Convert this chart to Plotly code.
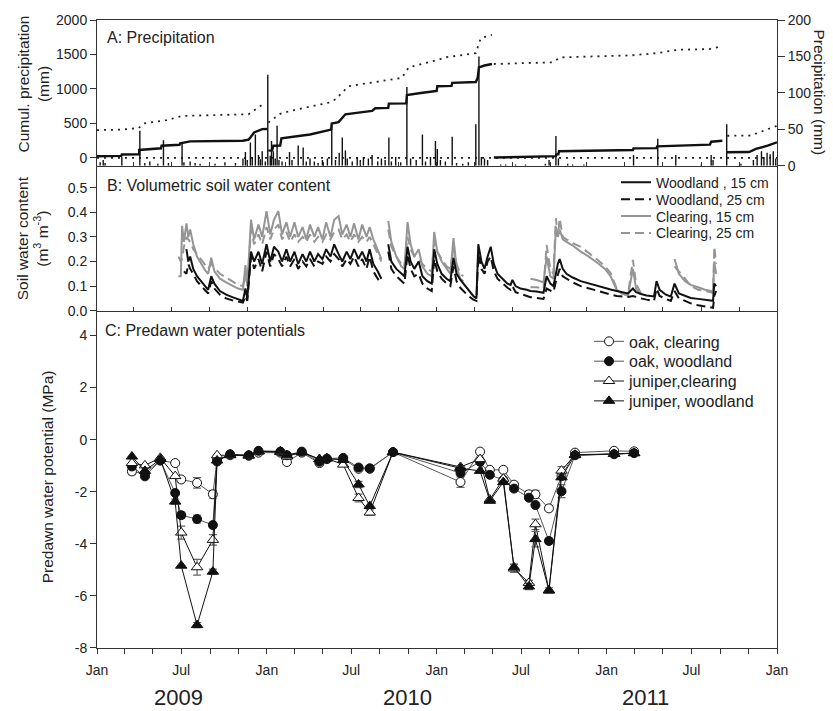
import plotly.graph_objects as go
from datetime import date, timedelta

BASE = date(2009, 1, 1)

# ---------------- Panel A: precipitation (days since 1 Jan 2009) ----------------
rain_day = [5, 10, 13, 40, 69, 77, 85, 98, 107, 115,
            137, 140, 150, 158, 166, 190, 206, 223, 235, 239,
            242, 247, 250, 255, 260, 263, 266, 271, 275, 279,
            281, 284, 287, 290, 293, 298, 310, 314, 324, 332,
            337, 343, 350, 356, 363, 371, 378, 384, 390, 395,
            400, 403, 411, 419, 424, 429, 437, 443, 452, 458,
            464, 470, 474, 481, 489, 499, 505, 514, 524, 529,
            537, 545, 548, 553, 561, 572, 579, 589, 598, 610,
            615, 619, 624, 629, 650, 658, 674, 690, 722, 728,
            739, 743, 758, 766, 784, 864, 903, 932, 973, 989,
            992, 1014, 1037, 1057, 1063, 1070, 1074, 1079, 1084, 1089,
            1093]
rain_mm = [5, 8, 4, 12, 48, 4, 6, 3, 35, 4,
           30, 5, 6, 4, 3, 3, 5, 4, 10, 19,
           8, 32, 12, 43, 15, 9, 20, 6, 125, 14,
           34, 20, 10, 55, 8, 6, 19, 8, 28, 25,
           6, 10, 6, 4, 8, 10, 57, 8, 18, 39,
           21, 10, 6, 12, 8, 12, 10, 15, 6, 10,
           8, 39, 6, 12, 5, 108, 10, 8, 43, 6,
           12, 34, 23, 8, 6, 40, 4, 3, 5, 57,
           150, 12, 10, 8, 2, 2, 2, 2, 3, 8,
           41, 10, 3, 2, 2, 15, 37, 15, 2, 15,
           8, 57, 3, 8, 15, 20, 12, 18, 16, 20,
           10]

cum_solid_day = [0, 39, 40, 68, 68, 103, 104, 133, 134, 150, 235, 244, 247, 253, 266, 274, None,
                 276, 282, 284, 295, 297, 311, 343, 377, 378, 389, 400, 424, 443, 448, 469, 470,
                 498, 499, 513, 524, 537, 547, 548, 571, 572, 610, 613, 615, 624, 636, None,
                 639, 727, 739, 740, 743, 744, 863, 864, 901, 902, 987, 989, 1007, None,
                 1013, 1050, 1061, 1080, 1095]
cum_solid_mm = [25, 30, 50, 52, 115, 140, 177, 190, 211, 240, 249, 265, 297, 369, 417, 420, None,
                105, 110, 177, 180, 283, 300, 340, 410, 499, 520, 633, 660, 681, 720, 725, 787,
                790, 911, 925, 945, 960, 970, 1040, 1045, 1089, 1100, 1161, 1314, 1340, 1362, None,
                5, 19, 25, 50, 55, 96, 115, 139, 142, 168, 192, 235, 249, None,
                82, 85, 130, 177, 226]

cum_dot_day = [0, 37, 67, 75, 112, 137, 244, 255, 271, None,
               276, 295, 311, 373, 384, 405, 491, 502, 550, 561, 610, 614, 618, 636, None,
               639, 733, 747, 860, 902, 935, 986, 1005, None,
               1015, 1053, 1080, 1095]
cum_dot_mm = [403, 410, 432, 499, 547, 609, 633, 705, 801, None,
              513, 640, 681, 801, 850, 1040, 1161, 1314, 1424, 1458, 1520, 1640, 1736, 1784, None,
              1362, 1386, 1458, 1487, 1520, 1568, 1578, 1616, None,
              321, 325, 417, 465]

ref_day = [0, 1095]
ref_mm = [0, 0]

# ---------------- Panel B: volumetric soil water content ----------------
N = None
soil_day = [131, 135, 137, 140, 144, 147, 150, 155, 161, 168,
            174, 179, 184, 189, 198, 208, 218, 227, 235, 239,
            242, 248, 253, 260, 266, 273, 279, 285, 292, 298,
            305, 311, 318, 324, 331, 337, 343, 350, 356, 363,
            369, 376, 382, 389, 395, 402, 408, 414, 421, 427,
            434, 439, 445, 452, 458, 463, 469, 474, 482, 490,
            495, 500, 505, 511, 518, 524, 532, 539, 543, 548,
            555, 563, 569, 574, 579, 585, 590, 598, 606, 611,
            614, 619, 624, 629, 634, 639, 645, 653, 661, 666,
            669, 674, 682, 692, 698, 708, 719, 724, 730, 735,
            739, 742, 745, 750, 756, 766, 779, 792, 806, 818,
            827, 837, 845, 855, 863, 868, 876, 885, 897, 901,
            906, 916, 924, 930, 937, 947, 956, 968, 979, 989,
            992, 994, 997]
wood15 = [N, N, N, N, 0.25, 0.20, 0.22, 0.17, 0.14, 0.12,
          0.10, 0.085, 0.14, 0.11, 0.08, 0.065, 0.055, 0.048, 0.04, 0.09,
          0.05, 0.24, 0.20, 0.24, 0.19, 0.27, 0.20, 0.26, 0.24, 0.20,
          0.25, 0.20, 0.24, 0.19, 0.23, 0.20, 0.24, 0.20, 0.23, 0.21,
          0.25, 0.22, 0.27, 0.23, 0.20, 0.24, 0.21, 0.25, 0.21, 0.24,
          0.20, 0.25, 0.19, 0.16, 0.13, N, 0.27, 0.20, 0.17, 0.15,
          0.14, 0.26, 0.20, 0.17, 0.20, 0.14, 0.12, 0.11, 0.25, 0.19,
          0.15, 0.13, 0.12, 0.215, 0.15, 0.126, 0.11, 0.085, 0.06, 0.05,
          0.27, 0.20, 0.17, 0.22, 0.26, 0.19, 0.15, 0.13, 0.11, 0.105,
          0.125, 0.10, 0.09, 0.085, 0.08, 0.078, 0.073, 0.14, 0.11, 0.10,
          0.16, 0.19, 0.21, 0.17, 0.15, 0.135, 0.12, 0.11, 0.10, 0.093,
          0.086, 0.08, 0.075, 0.07, 0.09, 0.075, 0.068, 0.062, 0.058, 0.12,
          0.085, 0.065, 0.058, 0.11, 0.07, 0.06, 0.052, 0.048, 0.045, 0.04,
          0.04, 0.11, 0.10]
wood25 = [N, N, N, 0.16, 0.15, 0.19, 0.17, 0.15, 0.12, 0.10,
          0.085, 0.07, 0.12, 0.09, 0.065, 0.05, 0.042, 0.036, 0.033, 0.06,
          0.04, 0.22, 0.17, 0.21, 0.16, 0.24, 0.18, 0.23, 0.21, 0.18,
          0.22, 0.18, 0.21, 0.17, 0.20, 0.18, 0.21, 0.18, 0.20, 0.19,
          0.22, 0.20, 0.23, 0.21, 0.18, 0.21, 0.19, 0.22, 0.18, 0.21,
          0.17, 0.22, 0.16, 0.13, 0.11, N, 0.24, 0.17, 0.14, 0.12,
          0.11, 0.23, 0.17, 0.14, 0.15, 0.11, 0.09, 0.08, 0.21, 0.16,
          0.13, 0.11, 0.10, 0.18, 0.12, 0.093, 0.08, 0.06, 0.045, 0.04,
          0.23, 0.17, 0.15, 0.20, 0.22, 0.16, 0.13, 0.11, 0.093, 0.085,
          0.10, 0.075, 0.068, 0.06, 0.055, 0.052, 0.048, 0.09, 0.08, 0.075,
          0.12, 0.15, 0.17, 0.14, 0.13, 0.115, 0.10, 0.09, 0.079, 0.072,
          0.066, 0.06, 0.058, 0.056, 0.06, 0.055, 0.05, 0.045, 0.04, 0.09,
          0.06, 0.048, 0.04, 0.08, 0.05, 0.04, 0.03, 0.022, 0.018, 0.012,
          0.012, 0.06, 0.08]
clear15 = [0.14, 0.14, 0.345, 0.28, 0.355, 0.30, 0.33, 0.27, 0.22, 0.19,
           0.165, 0.15, 0.215, 0.16, 0.13, 0.115, 0.10, 0.09, 0.085, 0.185,
           0.10, 0.37, 0.29, 0.35, 0.30, 0.405, 0.31, 0.37, 0.405, 0.31,
           0.36, 0.30, 0.36, 0.30, 0.34, 0.29, 0.35, 0.30, 0.34, 0.29,
           0.36, 0.30, 0.37, 0.385, 0.31, 0.35, 0.30, 0.355, 0.29, 0.35,
           0.30, 0.34, 0.29, 0.25, 0.21, N, 0.365, 0.28, 0.22, 0.18,
           0.17, 0.36, 0.27, 0.22, 0.25, 0.18, 0.15, 0.14, 0.32, 0.24,
           0.20, 0.17, 0.15, 0.295, 0.18, 0.13, 0.12, N, N, N,
           N, N, N, N, N, N, N, N, N, N,
           N, N, N, N, 0.13, 0.125, 0.115, 0.22, 0.14, 0.13,
           0.34, 0.30, 0.33, 0.29, 0.28, 0.265, 0.24, 0.22, 0.194, 0.17,
           0.14, 0.085, 0.07, 0.06, 0.17, 0.09, 0.065, N, N, N,
           N, N, N, 0.21, 0.15, 0.12, 0.105, 0.095, 0.085, 0.08,
           0.078, 0.20, 0.15]
clear25 = [0.22, 0.20, 0.21, 0.26, 0.30, 0.29, 0.28, 0.25, 0.23, 0.21,
           0.19, 0.17, 0.19, 0.175, 0.15, 0.135, 0.12, 0.105, 0.10, 0.14,
           0.11, 0.33, 0.27, 0.31, 0.27, 0.34, 0.29, 0.33, 0.35, 0.29,
           0.32, 0.28, 0.31, 0.28, 0.30, 0.28, 0.31, 0.28, 0.30, 0.28,
           0.31, 0.29, 0.32, 0.33, 0.29, 0.31, 0.28, 0.31, 0.28, 0.30,
           0.28, 0.30, 0.27, 0.23, 0.20, N, 0.33, 0.26, 0.22, 0.19,
           0.18, 0.30, 0.25, 0.22, 0.21, 0.19, 0.17, 0.16, 0.28, 0.24,
           0.21, 0.18, 0.17, 0.25, 0.19, 0.15, 0.14, N, N, N,
           N, N, N, N, N, N, N, N, N, N,
           N, N, N, N, 0.095, 0.095, 0.09, 0.267, 0.17, 0.15,
           0.376, 0.30, 0.375, 0.30, 0.29, 0.275, 0.26, 0.235, 0.207, 0.18,
           0.153, 0.09, 0.07, 0.065, 0.207, 0.11, 0.07, N, N, N,
           N, N, N, 0.18, 0.16, 0.13, 0.10, 0.085, 0.08, 0.075,
           0.07, 0.26, 0.19]

# ---------------- Panel C: predawn water potentials (MPa) ----------------
psi_day = [75, 103, 136, 168, 181, 215, 249, 258, 286, 326,
           347, 394, 408, 440, 478, 494, 529, 562, 586, 636,
           781, 823, 844, 873, 896, 928, 942, 971, 998, 1027,
           1111, 1154]
oak_clear = [-1.22, -1.3, -0.8, -0.9, -1.53, -1.66, -2.1, -0.75, -0.6, -0.62,
             -0.5, -0.5, -0.86, -0.5, -0.9, -0.75, -0.75, -1.12, -1.12, -0.48,
             -1.63, -0.46, -1.16, -1.16, -1.73, -2.1, -2.1, -2.64, -1.4, -0.5,
             -0.43, -0.45]
oak_wood = [-1.03, -1.41, -0.8, -2.05, -2.9, -3.05, -3.28, -0.84, -0.56, -0.6,
            -0.43, -0.46, -0.6, -0.46, -0.85, -0.73, -0.7, -1.07, -1.1, -0.48,
            -1.28, -0.85, -1.35, -1.55, -1.88, -2.23, -2.51, -3.89, -1.98, -0.6,
            -0.56, -0.52]
jun_clear = [-0.9, -0.99, -0.7, -1.4, -3.57, -4.9, -3.85, -0.6, -0.6, -0.62,
             -0.45, -0.48, -0.65, -0.48, -0.75, -0.72, -0.96, -2.24, -2.8, -0.48,
             -1.05, -0.75, -2.3, -1.5, -4.95, -5.5, -3.25, -5.79, -1.19, -0.58,
             -0.55, -0.52]
jun_wood = [-0.65, -1.2, -0.75, -2.38, -4.84, -7.12, -5.07, -0.8, -0.58, -0.6,
            -0.45, -0.45, -0.6, -0.48, -0.75, -0.72, -0.78, -1.72, -2.55, -0.48,
            -1.1, -1.2, -2.35, -1.63, -4.9, -5.64, -3.82, -5.79, -1.45, -0.6,
            -0.55, -0.52]
oak_clear_se = [0.12, 0, 0, 0, 0.1, 0.2, 0.15, 0, 0, 0, 0, 0, 0, 0, 0, 0,
                0, 0, 0, 0, 0.2, 0, 0, 0, 0.1, 0.12, 0.15, 0.1, 0, 0, 0, 0]
oak_wood_se = [0, 0, 0, 0, 0.12, 0.15, 0.1, 0, 0, 0, 0, 0, 0, 0, 0, 0,
               0, 0, 0.1, 0, 0, 0, 0, 0, 0, 0, 0, 0.1, 0.25, 0, 0, 0]
jun_clear_se = [0, 0, 0, 0, 0.25, 0.3, 0.2, 0, 0, 0, 0, 0, 0, 0, 0, 0,
                0, 0.15, 0.1, 0, 0, 0, 0, 0, 0.15, 0.1, 0.2, 0, 0.15, 0, 0, 0]
jun_wood_se = [0, 0, 0, 0.1, 0, 0.1, 0.1, 0, 0, 0, 0, 0, 0, 0, 0, 0,
               0, 0.12, 0, 0, 0, 0, 0, 0, 0.12, 0.12, 0.3, 0.1, 0, 0, 0, 0]

cum_ticks = [0, 500, 1000, 1500, 2000]
rain_ticks = [0, 50, 100, 150, 200]
swc_ticks = [0.0, 0.1, 0.2, 0.3, 0.4, 0.5]
psi_ticks = [-8, -6, -4, -2, 0, 2, 4]
year_labels = ["2009", "2010", "2011"]


# ---------------- helpers ----------------
def to_dates(days):
    return [None if d is None else (BASE + timedelta(days=d)).isoformat() for d in days]


def month_ticks(y0, y1, step=2):
    out = []
    for y in range(y0, y1 + 1):
        for m in range(1, 13, step):
            if y == y1 and m > 1:
                break
            out.append(date(y, m, 1))
    return out


W, H = 833, 711
L, R, T, B = 97, 56, 15, 63
PW, PH = W - L - R, H - T - B


def px(x):
    return (x - L) / PW


def py(y):
    return (H - B - y) / PH


FONT = "Liberation Sans, Arial, sans-serif"
AX = "#333333"

fig = go.Figure()

# ---- Panel A ----
bx, by = [], []
for d, v in zip(to_dates(rain_day), rain_mm):
    bx += [d, d, None]
    by += [0, v, None]
fig.add_trace(go.Scatter(x=bx, y=by, mode="lines", xaxis="x", yaxis="y2",
                         line=dict(color="#111", width=1.4), showlegend=False, hoverinfo="skip"))
fig.add_trace(go.Scatter(x=to_dates(ref_day), y=ref_mm, mode="lines", xaxis="x", yaxis="y",
                         line=dict(color="#222", width=1.6, dash="2px,5px"), showlegend=False))
fig.add_trace(go.Scatter(x=to_dates(cum_dot_day), y=cum_dot_mm, mode="lines", xaxis="x", yaxis="y",
                         line=dict(color="#222", width=1.8, dash="2px,5px"), showlegend=False))
fig.add_trace(go.Scatter(x=to_dates(cum_solid_day), y=cum_solid_mm, mode="lines", xaxis="x", yaxis="y",
                         line=dict(color="#111", width=2.4), showlegend=False))

# ---- Panel B ----  (one single-entry legend per row so rows can be spaced like the original)
sd = to_dates(soil_day)
fig.add_trace(go.Scatter(x=sd, y=clear15, mode="lines", xaxis="x3", yaxis="y3", name="Clearing, 15 cm",
                         line=dict(color="#959595", width=2), legend="legend3"))
fig.add_trace(go.Scatter(x=sd, y=clear25, mode="lines", xaxis="x3", yaxis="y3", name="Clearing, 25 cm",
                         line=dict(color="#959595", width=2, dash="9px,5px"), legend="legend4"))
fig.add_trace(go.Scatter(x=sd, y=wood15, mode="lines", xaxis="x3", yaxis="y3", name="Woodland , 15 cm",
                         line=dict(color="#111", width=2), legend="legend"))
fig.add_trace(go.Scatter(x=sd, y=wood25, mode="lines", xaxis="x3", yaxis="y3", name="Woodland, 25 cm",
                         line=dict(color="#111", width=2, dash="9px,5px"), legend="legend2"))

# ---- Panel C ----
pdts = to_dates(psi_day)


def err(se):
    return dict(type="data", array=[e if e > 0 else None for e in se], visible=True,
                color="#666", thickness=1.2, width=4)


series_c = [
    ("oak, clearing", oak_clear, oak_clear_se, "circle", "white", "#555", "legend5"),
    ("oak, woodland", oak_wood, oak_wood_se, "circle", "#111", "#555", "legend6"),
    ("juniper,clearing", jun_clear, jun_clear_se, "triangle-up", "white", "#111", "legend7"),
    ("juniper, woodland", jun_wood, jun_wood_se, "triangle-up", "#111", "#111", "legend8"),
]
for name, vals, se, sym, fill, lc, lg in series_c:
    fig.add_trace(go.Scatter(
        x=pdts, y=vals, mode="lines+markers", xaxis="x2", yaxis="y4", name=name,
        legend=lg, error_y=err(se),
        line=dict(color=lc, width=1),
        marker=dict(symbol=sym, size=9 if sym == "circle" else 10, color=fill,
                    line=dict(color="#111", width=1))))

# ---- axes ----
ab_ticks = [d.isoformat() for d in month_ticks(2009, 2012)]
c_all = month_ticks(2009, 2013)
c_major = [d for d in c_all if d.month in (1, 7)]
c_minor = [d.isoformat() for d in c_all if d.month not in (1, 7)]
c_ticks = [d.isoformat() for d in c_major]
c_text = ["Jan" if d.month == 1 else "Jul" for d in c_major]

common = dict(showgrid=False, zeroline=False, linecolor=AX, linewidth=1, tickcolor=AX,
              tickfont=dict(size=14, color="#222", family=FONT), showline=True)

yA = [py(162), 1.0]
yB = [py(308), py(162)]
yC = [0.0, py(308)]


def one_legend(xp, yp, size):
    return dict(x=px(xp), y=py(yp), xanchor="left", yanchor="middle",
                font=dict(size=size, family=FONT, color="#222"),
                bgcolor="rgba(0,0,0,0)", itemclick=False, itemdoubleclick=False)


legends = {}
for i, yrow in enumerate([179, 196, 213, 230]):
    key = "legend" if i == 0 else f"legend{i + 1}"
    legends[key] = one_legend(616, yrow, 14)
for i, yrow in enumerate([339, 359, 379, 399]):
    legends[f"legend{i + 5}"] = one_legend(589, yrow, 16)

fig.update_layout(
    width=W, height=H,
    margin=dict(l=L, r=R, t=T, b=B, pad=0),
    paper_bgcolor="white", plot_bgcolor="white",
    font=dict(family=FONT, color="#222"),
    xaxis=dict(domain=[0, 1], anchor="y", type="date", range=["2009-01-01", "2012-01-01"],
               tickvals=ab_ticks, showticklabels=False, ticks="inside", ticklen=4,
               mirror=True, **common),
    yaxis=dict(domain=yA, anchor="x", range=[-115, 2000], tickvals=cum_ticks,
               ticks="outside", ticklen=6, **common),
    yaxis2=dict(overlaying="y", side="right", anchor="x", range=[0, 200], tickvals=rain_ticks,
                ticks="outside", ticklen=7, **common),
    xaxis3=dict(domain=[0, 1], anchor="y3", type="date", range=["2009-01-01", "2012-01-01"],
                tickvals=ab_ticks, showticklabels=False, ticks="inside", ticklen=4, **common),
    yaxis3=dict(domain=yB, anchor="x3", range=[0, 0.589], tickvals=swc_ticks,
                ticktext=[f"{v:.1f}" for v in swc_ticks],
                ticks="outside", ticklen=6, mirror=True, **common),
    xaxis2=dict(domain=[0, 1], anchor="y4", type="date", range=["2009-01-01", "2013-01-01"],
                tickvals=c_ticks, ticktext=c_text, ticks="outside", ticklen=5,
                ticklabelstandoff=4,
                minor=dict(tickvals=c_minor, ticks="outside", ticklen=5, tickcolor=AX, showgrid=False),
                **common),
    yaxis4=dict(domain=yC, anchor="x2", range=[-8, 4.95], tickvals=psi_ticks,
                ticktext=[str(v) for v in psi_ticks],
                ticks="outside", ticklen=6, mirror=True, **common),
    showlegend=True,
    **legends,
)


def ann(text, x, y, size, angle=0, xanchor="center", yanchor="middle"):
    fig.add_annotation(text=text, x=px(x), y=py(y), xref="paper", yref="paper",
                       showarrow=False, textangle=angle, xanchor=xanchor, yanchor=yanchor,
                       font=dict(size=size, family=FONT, color="#222"))


ann("A: Precipitation", 105, 33, 16, xanchor="left")
ann("B: Volumetric soil water content", 105, 182, 16, xanchor="left")
ann("C: Predawn water potentials", 103, 328, 16, xanchor="left")
ann("Cumul. precipitation<br>(mm)", 33, 80, 15.5, angle=-90)
ann("Precipitation (mm)", 820, 88, 15.5, angle=90)
ann("Soil water content<br>(m<sup>3</sup> m<sup>-3</sup>)", 32, 235, 15.5, angle=-90)
ann("Predawn water potential (MPa)", 47, 476, 15.5, angle=-90)
for lab, xx in zip(year_labels, [178, 407, 645]):
    ann(lab, xx, 698, 22)

fig.write_html("out.html", config={"displayModeBar": False},
               post_script="document.body.style.margin='0px';")
